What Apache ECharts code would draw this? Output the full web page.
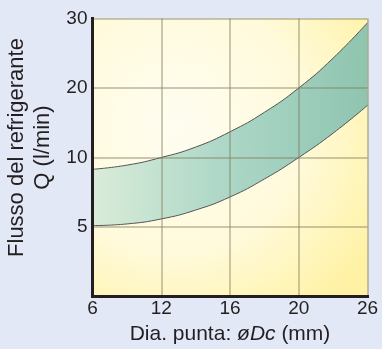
<!DOCTYPE html>
<html>
<head>
<meta charset="utf-8">
<script src="https://cdn.jsdelivr.net/npm/echarts@6/dist/echarts.min.js"></script>
<style>
  html, body { margin: 0; padding: 0; background: #e2e8f5; }
  #chart { width: 382px; height: 349px; }
</style>
</head>
<body>
<div id="chart"></div>
<script>
// Axis ticks: both axes are evenly spaced between the labelled values
const xTickValues = [6, 12, 16, 20, 26];
const xTickLabels = ['6', '12', '16', '20', '26'];
const yTickValues = [0, 5, 10, 20, 30];
const yTickLabels = ['', '5', '10', '20', '30'];

// Coolant flow band: drill diameter (mm) vs flow Q (l/min)
const diameters = [6, 9, 12, 14, 16, 18, 20, 23, 26];
const flowMax   = [9.15, 9.45, 10.0, 11.5, 13.7, 16.5, 20.0, 24.3, 29.4];
const flowMin   = [5.1, 5.22, 5.58, 6.22, 7.16, 8.45, 10.0, 13.5, 17.5];

// Piecewise-linear position of a value between labelled ticks
function piecewise(ticks, v) {
  for (let i = 0; i < ticks.length - 1; i++) {
    if (v <= ticks[i + 1] || i === ticks.length - 2) {
      return i + (v - ticks[i]) / (ticks[i + 1] - ticks[i]);
    }
  }
  return ticks.length - 1;
}
const px = v => piecewise(xTickValues, v);
const py = v => piecewise(yTickValues, v);

// Rows are [y, x] so that stacking is applied to the y column
const lowerRows = diameters.map((d, i) => [py(flowMin[i]), px(d)]);
const bandRows  = diameters.map((d, i) => [py(flowMax[i]) - py(flowMin[i]), px(d)]);

const ink = '#231f20';
const font = '"Liberation Sans", Arial, Helvetica, sans-serif';
const gridLine = { color: 'rgba(125,120,85,0.40)', width: 2 };
const frame = { color: ink, width: 3, cap: 'square' };

const chart = echarts.init(document.getElementById('chart'));
chart.setOption({
  backgroundColor: '#e2e8f5',
  animation: false,
  grid: {
    left: 92.5, top: 18.5, right: 14.5, bottom: 52.5,
    containLabel: false, outerBoundsMode: 'none',
    show: true, borderWidth: 0,
    backgroundColor: new echarts.graphic.RadialGradient(0.3, 0.38, 0.85, [
      { offset: 0, color: '#fffdf1' },
      { offset: 0.55, color: '#fffadb' },
      { offset: 1, color: '#fff2a4' }
    ])
  },
  xAxis: [{
    type: 'value', min: 0, max: 4, interval: 1, z: 5,
    axisLine: { show: true, lineStyle: frame },
    axisTick: { show: false },
    splitLine: { show: true, lineStyle: gridLine },
    axisLabel: {
      margin: 3, color: ink, fontFamily: font, fontSize: 19,
      formatter: v => xTickLabels[Math.round(v)]
    },
    name: '{n|Dia. punta: }{i|øDc}{n| (mm)}',
    nameLocation: 'middle', nameGap: 24,
    nameTextStyle: {
      rich: {
        n: { fontFamily: font, fontSize: 21, color: ink },
        i: { fontFamily: font, fontSize: 21, color: ink, fontStyle: 'italic' }
      }
    }
  }, {
    type: 'value', position: 'top', min: 0, max: 4, interval: 1, z: 5,
    axisLine: { show: true, lineStyle: frame },
    axisTick: { show: false }, axisLabel: { show: false }, splitLine: { show: false }
  }],
  yAxis: [{
    type: 'value', min: 0, max: 4, interval: 1, z: 5,
    axisLine: { show: true, lineStyle: frame },
    axisTick: { show: false },
    splitLine: { show: true, lineStyle: gridLine },
    axisLabel: {
      margin: 5, color: ink, fontFamily: font, fontSize: 19,
      formatter: v => yTickLabels[Math.round(v)]
    },
    name: 'Flusso del refrigerante\nQ (l/min)',
    nameLocation: 'middle', nameRotate: 90, nameGap: 37,
    nameTextStyle: { fontFamily: font, fontSize: 22, color: ink, lineHeight: 26, padding: [0, 0, 0, 20] }
  }, {
    type: 'value', position: 'right', min: 0, max: 4, interval: 1, z: 5,
    axisLine: { show: true, lineStyle: frame },
    axisTick: { show: false }, axisLabel: { show: false }, splitLine: { show: false }
  }],
  series: [{
    type: 'line', stack: 'band', data: lowerRows, encode: { x: 1, y: 0 },
    smooth: 0.5, symbol: 'none', lineStyle: { color: '#555555', width: 1 }
  }, {
    type: 'line', stack: 'band', data: bandRows, encode: { x: 1, y: 0 },
    smooth: 0.5, symbol: 'none', lineStyle: { color: '#555555', width: 1 },
    areaStyle: {
      opacity: 0.9,
      color: new echarts.graphic.LinearGradient(0, 0, 1, 0, [
        { offset: 0, color: '#d6ebd8' },
        { offset: 0.45, color: '#a6d4c5' },
        { offset: 1, color: '#82bfae' }
      ])
    }
  }]
});
</script>
</body>
</html>
